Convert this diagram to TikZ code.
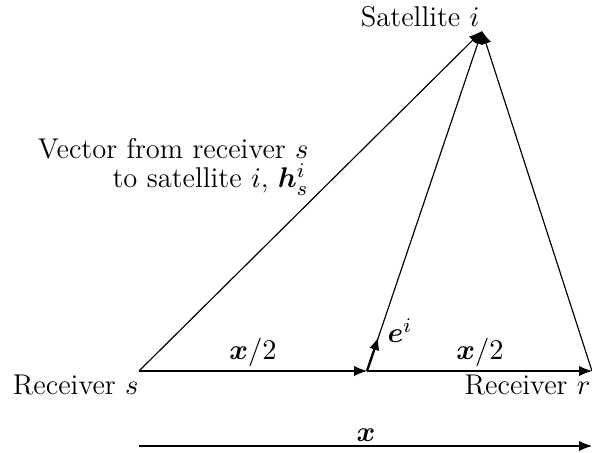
\documentclass[tikz,border=0pt]{standalone}
\usepackage{amsmath,bm}
\usetikzlibrary{arrows.meta}
\begin{document}
\begin{tikzpicture}[x=0.385pt,y=-0.385pt,
  vec/.style={-{Latex[length=5pt,width=4pt]},line width=0.45pt},
  evec/.style={-{Latex[length=5pt,width=4pt]},line width=0.9pt},
  lbl/.style={inner sep=0pt,font=\fontsize{11}{13}\selectfont}]
\useasboundingbox (0,0) rectangle (592,453);
\coordinate (s) at (139,371);
\coordinate (m) at (367,371);
\coordinate (r) at (592,371);
\coordinate (sat) at (482,31);
\coordinate (e) at (378.5,337);
\coordinate (bs) at (139,446);
\coordinate (br) at (592,446);
\draw[vec] (s) -- (sat);
\draw[vec] (m) -- (sat);
\draw[vec] (r) -- (sat);
\draw[vec] (s) -- (m);
\draw[vec] (m) -- (r);
\draw[evec] (m) -- (e);
\draw[vec] (bs) -- (br);
\node[lbl,anchor=base east] (satl) at (480,27) {Satellite $i$};
\node[lbl,anchor=base east] (rsl) at (139,395) {Receiver $s$};
\node[lbl,anchor=base east] (rrl) at (591,395) {Receiver $r$};
\node[lbl,anchor=base east] (hl1) at (309,159) {Vector from receiver $s$};
\node[lbl,anchor=base east] (hl2) at (309,188) {to satellite $i$, $\bm{h}_s^i$};
\node[lbl,anchor=base] (x1) at (253,360) {$\bm{x}/2$};
\node[lbl,anchor=base] (x2) at (480,360) {$\bm{x}/2$};
\node[lbl,anchor=base west] (el) at (387,343) {$\bm{e}^i$};
\node[lbl,anchor=base] (xl) at (366,442) {$\bm{x}$};
\end{tikzpicture}
\end{document}
